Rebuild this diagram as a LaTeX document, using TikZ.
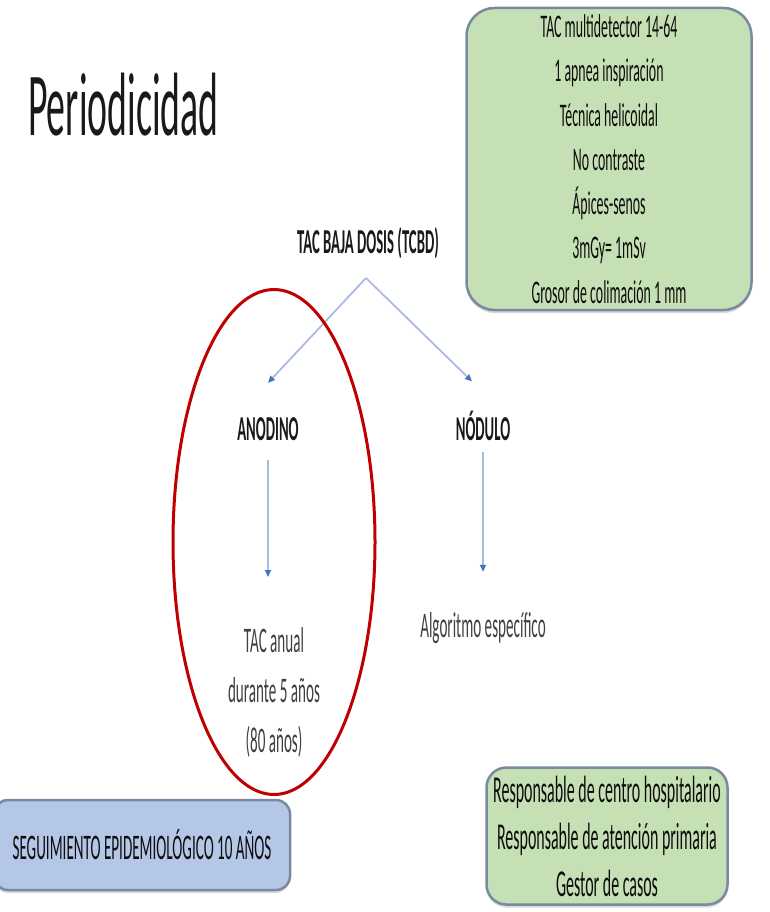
\documentclass[tikz,border=0pt]{standalone}
\usepackage{fontspec}
\setmainfont{Carlito}[FakeStretch=0.42]
\usetikzlibrary{arrows.meta,shapes.geometric,shadows}
\definecolor{boxgreen}{RGB}{197,224,180}
\definecolor{boxblue}{RGB}{180,199,231}
\definecolor{boxedge}{RGB}{120,138,160}
\definecolor{flowline}{RGB}{170,188,222}
\definecolor{flowtip}{RGB}{68,114,196}
\definecolor{ringred}{RGB}{192,0,0}
\tikzset{
  infobox/.style={draw=boxedge, line width=2.5pt, align=center, inner sep=0pt, text=black!95,
    drop shadow={shadow xshift=0pt, shadow yshift=-3pt, opacity=0.3}},
  techbox/.style={infobox, rounded corners=28pt, fill=boxgreen, font=\fontsize{33}{44.3}\selectfont},
  rolebox/.style={infobox, rounded corners=20pt, fill=boxgreen, font=\fontsize{38}{47}\selectfont},
  followbox/.style={infobox, rounded corners=14pt, fill=boxblue, font=\fontsize{36}{44}\selectfont},
  branch/.style={font=\bfseries\fontsize{35}{42}\selectfont, inner sep=0pt, text=black!90},
  outcome/.style={font=\fontsize{36}{50}\selectfont, align=center, inner sep=0pt, text=black!75},
  flowedge/.style={-{Triangle[length=7pt,width=6pt,color=flowtip]}, line width=1.8pt, draw=flowline},
  ring/.style={ellipse, draw=ringred, line width=3pt, minimum width=202pt, minimum height=505pt}
}
\begin{document}
\begin{tikzpicture}[x=1pt, y=-1pt]
  \clip (0,0) rectangle (769,912);
  \node[anchor=base west, font=\fontsize{90}{100}\selectfont, inner sep=0pt, text=black!90] (title) at (28,136) {Periodicidad};
  \node[techbox, minimum width=285pt, minimum height=302pt] (tech) at (609,159) {TAC multidetector 14-64\\1 apnea inspiración\\Técnica helicoidal\\No contraste\\Ápices-senos\\3mGy= 1mSv\\Grosor de colimación 1 mm};

  \node[branch] (tcbd) at (368,243) {TAC BAJA DOSIS (TCBD)};
  \coordinate (split) at (366,278);
  \node[branch, anchor=base] (anodino) at (268,440) {ANODINO};
  \node[branch, anchor=base] (nodulo) at (483,440) {NÓDULO};
  \coordinate (anodinotip) at ([yshift=34pt]anodino.north);
  \coordinate (nodulotip) at ([xshift=-11pt,yshift=29pt]nodulo.north);
  \node[outcome, anchor=north] (anual) at (274,627) {TAC anual\\durante 5 años\\(80 años)};
  \node[outcome, anchor=base] (algoritmo) at (483,637) {Algoritmo específico};

  \draw[flowedge] (split) -- (anodinotip);
  \draw[flowedge] (split) -- (nodulotip);
  \draw[flowedge, shorten <=20pt, shorten >=50pt] (anodino.south) -- (anodino.south |- anual.north);
  \draw[flowedge, shorten <=12pt, shorten >=40pt] (nodulo.south) -- (nodulo.south |- algoritmo.north);

  \node[ring] (focus) at (274,542) {};

  \node[followbox, minimum width=296pt, minimum height=90pt] (seguimiento) at (142,845) {SEGUIMIENTO EPIDEMIOLÓGICO 10 AÑOS};
  \node[rolebox, minimum width=241pt, minimum height=137pt] (roles) at (607,836) {Responsable de centro hospitalario\\Responsable de atención primaria\\Gestor de casos};
\end{tikzpicture}
\end{document}
